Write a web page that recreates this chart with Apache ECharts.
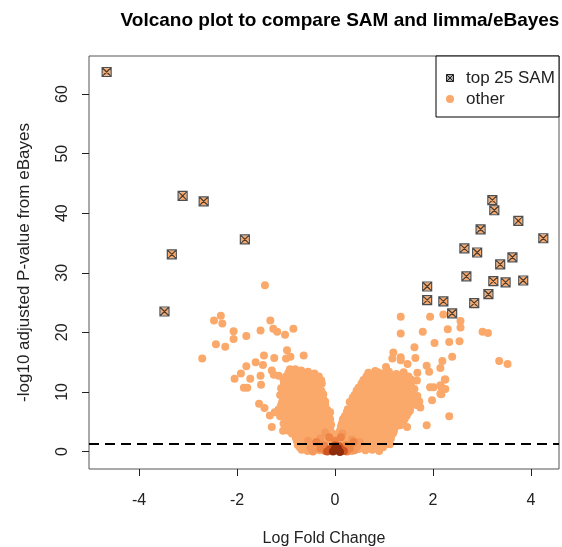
<!DOCTYPE html>
<html>
<head>
<meta charset="utf-8">
<script src="https://cdn.jsdelivr.net/npm/echarts@6/dist/echarts.min.js"></script>
<style>
html,body{margin:0;padding:0;background:#fff;}
#chart{width:562px;height:547px;}
</style>
</head>
<body>
<div id="chart"></div>
<script>
// ---------- data ----------
const xTicks = [-4, -2, 0, 2, 4];
const yTicks = [0, 10, 20, 30, 40, 50, 60];
const cutoff = 1.3; // -log10(0.05)

// top 25 SAM genes [logFC, -log10 adj P]
const top25 = [
  [-4.66,63.7],[-3.11,42.9],[-2.68,42.0],[-3.33,33.1],[-1.84,35.6],[-3.48,23.5],
  [3.21,42.2],[3.25,40.5],[3.74,38.7],[2.97,37.3],[4.25,35.8],[2.64,34.1],
  [2.90,33.4],[3.62,32.6],[3.37,31.4],[2.68,29.4],[3.23,28.6],[3.48,28.4],
  [3.84,28.7],[1.88,27.7],[1.88,25.4],[2.21,25.2],[3.13,26.4],[2.84,24.9],[2.39,23.2]
];

// other genes: scattered (left side)
const otherLeft = [
  [-1.43,27.9],[-2.47,22.0],[-2.33,22.8],[-2.30,21.5],[-2.07,20.2],[-2.07,18.9],[-1.81,19.4],
  [-2.43,18.0],[-2.24,17.6],[-2.71,15.6],[-1.32,22.0],[-1.52,20.3],[-1.26,20.6],[-1.18,20.1],
  [-1.02,19.6],[-0.85,20.6],[-0.98,17.0],[-1.45,16.1],[-1.24,15.7],[-1.00,15.6],[-0.91,15.9],
  [-0.64,16.1],[-1.62,15.0],[-1.47,14.5],[-1.81,14.3],[-1.92,13.1],[-1.29,13.6],[-0.92,13.8],
  [-0.81,13.8],[-0.69,13.6],[-1.52,12.7],[-1.25,12.9],[-1.15,12.7],[-2.05,12.2],[-1.73,12.2],
  [-0.44,12.2],[-1.86,10.7],[-1.79,10.7],[-1.51,11.2],[-1.55,8.0],[-1.44,7.3],[-1.33,6.05],
  [-1.23,6.6],[-1.29,4.1],[-1.06,3.5]
];
// other genes: scattered (right side)
const otherRight = [
  [1.34,22.6],[1.94,22.6],[2.21,23.0],[1.34,19.8],[1.79,20.1],[2.30,20.5],[2.03,18.2],
  [1.62,17.5],[1.19,16.6],[1.34,15.8],[1.34,15.3],[1.17,15.6],[1.64,15.7],[1.48,14.7],
  [2.19,15.2],[1.04,14.2],[1.06,13.5],[0.87,13.3],[1.87,14.4],[1.92,13.4],[2.15,14.0],
  [1.36,12.8],[1.68,13.2],[1.55,12.1],[2.25,12.1],[2.56,21.9],[2.56,20.8],[3.01,20.1],
  [3.12,19.9],[2.54,18.5],[2.33,18.4],[2.39,15.9],[3.35,15.2],[3.52,14.7],[2.24,12.1],
  [2.17,10.8],[2.17,9.6],[2.33,5.9],[1.94,10.8],[2.01,10.8],[2.15,11.1],[2.25,10.5],
  [2.15,9.7],[1.98,8.6],[1.74,7.4],[1.53,6.9],[1.47,6.3],[1.87,4.4],[1.47,4.1],[1.33,4.4],
  [1.12,1.2],[1.67,11.9],[1.47,11.1],[1.33,11.4]
];
// other genes: dense cloud, negative fold change
const cloudLeft = [
  [-0.95,13.2],[-0.82,13.5],[-0.68,13.0],[-0.55,13.4],[-0.42,13.1],
  [-1.05,12.0],[-0.92,11.8],[-0.78,12.1],[-0.65,11.9],[-0.52,12.0],[-0.38,11.7],[-0.28,11.9],
  [-1.1,10.6],[-0.98,10.9],[-0.85,10.7],[-0.72,10.8],[-0.58,10.5],[-0.45,10.8],[-0.32,10.6],
  [-1.12,9.5],[-1.0,9.7],[-0.86,9.4],[-0.74,9.6],[-0.6,9.5],[-0.47,9.7],[-0.34,9.4],[-0.24,9.6],
  [-1.08,8.3],[-0.95,8.5],[-0.82,8.2],[-0.68,8.4],[-0.55,8.3],[-0.42,8.5],[-0.3,8.2],[-0.2,8.4],
  [-1.15,7.1],[-1.02,7.3],[-0.9,7.0],[-0.77,7.2],[-0.64,7.1],[-0.5,7.3],[-0.37,7.0],[-0.25,7.2],[-0.16,7.0],
  [-1.12,5.9],[-0.98,6.1],[-0.85,5.8],[-0.72,6.0],[-0.58,5.9],[-0.45,6.1],[-0.32,5.8],[-0.2,6.0],[-0.12,5.8],
  [-1.05,4.7],[-0.92,4.9],[-0.8,4.6],[-0.66,4.8],[-0.53,4.7],[-0.4,4.9],[-0.28,4.6],[-0.16,4.8],[-0.08,4.5],
  [-0.95,3.5],[-0.84,3.7],[-0.73,3.4],[-0.6,3.6],[-0.47,3.5],[-0.35,3.7],[-0.22,3.4],[-0.1,3.6],
  [-0.8,2.3],[-0.7,2.5],[-0.6,2.2],[-0.5,2.4],[-0.4,2.3],[-0.3,2.5],[-0.18,2.2],[-0.08,2.4],
  [-0.76,1.1],[-0.66,1.3],[-0.56,1.0],[-0.46,1.2],[-0.36,1.1],[-0.26,1.3],
  [-0.68,0.3],[-0.56,0.1],[-0.44,0.4],[-0.32,0.2]
];
const cloudLeft2 = [
  [-1.0,12.6],[-0.86,12.6],[-0.72,12.6],[-0.58,12.6],[-0.45,12.6],[-0.33,12.6],
  [-1.04,11.4],[-0.9,11.4],[-0.77,11.4],[-0.64,11.4],[-0.5,11.4],[-0.38,11.4],[-0.27,11.4],
  [-1.06,10.2],[-0.93,10.2],[-0.8,10.2],[-0.66,10.2],[-0.53,10.2],[-0.4,10.2],[-0.28,10.2],
  [-1.02,9.0],[-0.88,9.0],[-0.75,9.0],[-0.62,9.0],[-0.48,9.0],[-0.36,9.0],[-0.25,9.0],
  [-1.1,7.8],[-0.97,7.8],[-0.84,7.8],[-0.7,7.8],[-0.57,7.8],[-0.44,7.8],[-0.31,7.8],[-0.2,7.8],
  [-1.08,6.6],[-0.95,6.6],[-0.82,6.6],[-0.7,6.6],[-0.57,6.6],[-0.44,6.6],[-0.3,6.6],[-0.18,6.6],[-0.1,6.6],
  [-1.0,5.4],[-0.87,5.4],[-0.74,5.4],[-0.6,5.4],[-0.47,5.4],[-0.34,5.4],[-0.22,5.4],[-0.1,5.4],
  [-0.98,4.2],[-0.86,4.2],[-0.72,4.2],[-0.6,4.2],[-0.47,4.2],[-0.34,4.2],[-0.22,4.2],[-0.1,4.2],
  [-0.88,3.0],[-0.76,3.0],[-0.64,3.0],[-0.52,3.0],[-0.4,3.0],[-0.28,3.0],[-0.15,3.0],[-0.05,3.0],
  [-0.78,1.8],[-0.66,1.8],[-0.55,1.8],[-0.44,1.8],[-0.32,1.8],[-0.2,1.8],[-0.1,1.8],
  [-0.72,0.7],[-0.6,0.7],[-0.5,0.7],[-0.38,0.7],[-0.26,0.7]
];
// other genes: dense cloud, positive fold change
const cloudRight = [
  [0.68,13.2],[0.82,13.5],[0.96,13.1],[1.1,13.4],[1.25,13.0],[1.4,13.3],
  [0.58,12.0],[0.72,11.8],[0.86,12.1],[1.0,11.9],[1.14,12.0],[1.28,11.8],[1.42,12.1],[1.56,11.9],
  [0.48,10.7],[0.62,10.9],[0.76,10.6],[0.9,10.8],[1.04,10.7],[1.18,10.9],[1.32,10.6],[1.5,10.8],[1.62,10.5],
  [0.4,9.5],[0.54,9.7],[0.68,9.4],[0.82,9.6],[0.96,9.5],[1.1,9.7],[1.24,9.4],[1.38,9.6],[1.55,9.5],[1.68,9.3],
  [0.3,8.3],[0.44,8.5],[0.58,8.2],[0.72,8.4],[0.86,8.3],[1.0,8.5],[1.14,8.2],[1.28,8.4],[1.44,8.3],[1.6,8.1],[1.72,8.4],
  [0.26,7.1],[0.4,7.3],[0.54,7.0],[0.68,7.2],[0.82,7.1],[0.96,7.3],[1.1,7.0],[1.24,7.2],[1.38,7.0],[1.52,7.2],
  [0.2,5.9],[0.34,6.1],[0.48,5.8],[0.62,6.0],[0.76,5.9],[0.9,6.1],[1.04,5.8],[1.18,6.0],[1.32,5.8],[1.46,6.0],
  [0.14,4.7],[0.28,4.9],[0.42,4.6],[0.56,4.8],[0.7,4.7],[0.84,4.9],[0.98,4.6],[1.12,4.8],[1.26,4.5],[1.38,4.7],
  [0.1,3.5],[0.24,3.7],[0.38,3.4],[0.52,3.6],[0.66,3.5],[0.8,3.7],[0.94,3.4],[1.08,3.6],[1.2,3.4],
  [0.06,2.3],[0.2,2.5],[0.34,2.2],[0.48,2.4],[0.62,2.3],[0.76,2.5],[0.9,2.2],[1.02,2.4],[1.14,2.2],
  [0.08,1.1],[0.22,1.3],[0.36,1.0],[0.5,1.2],[0.64,1.1],[0.78,1.3],[0.92,1.0],[1.04,1.2],
  [0.2,0.3],[0.34,0.1],[0.48,0.4],[0.62,0.2],[0.76,0.3],[0.9,0.1]
];
const cloudRight2 = [
  [0.64,12.6],[0.78,12.6],[0.92,12.6],[1.06,12.6],[1.2,12.6],[1.34,12.6],[1.5,12.6],
  [0.54,11.4],[0.68,11.4],[0.82,11.4],[0.96,11.4],[1.1,11.4],[1.24,11.4],[1.38,11.4],[1.55,11.4],
  [0.44,10.2],[0.58,10.2],[0.72,10.2],[0.86,10.2],[1.0,10.2],[1.14,10.2],[1.28,10.2],[1.44,10.2],[1.58,10.2],
  [0.36,9.0],[0.5,9.0],[0.64,9.0],[0.78,9.0],[0.92,9.0],[1.06,9.0],[1.2,9.0],[1.34,9.0],[1.5,9.0],[1.64,9.0],
  [0.36,7.8],[0.5,7.8],[0.64,7.8],[0.78,7.8],[0.92,7.8],[1.06,7.8],[1.2,7.8],[1.34,7.8],[1.5,7.8],[1.66,7.8],
  [0.24,6.6],[0.38,6.6],[0.52,6.6],[0.66,6.6],[0.8,6.6],[0.94,6.6],[1.08,6.6],[1.22,6.6],[1.36,6.6],[1.5,6.6],
  [0.16,5.4],[0.3,5.4],[0.44,5.4],[0.58,5.4],[0.72,5.4],[0.86,5.4],[1.0,5.4],[1.14,5.4],[1.28,5.4],[1.42,5.4],
  [0.12,4.2],[0.26,4.2],[0.4,4.2],[0.54,4.2],[0.68,4.2],[0.82,4.2],[0.96,4.2],[1.1,4.2],[1.24,4.2],
  [0.08,3.0],[0.22,3.0],[0.36,3.0],[0.5,3.0],[0.64,3.0],[0.78,3.0],[0.92,3.0],[1.06,3.0],[1.18,3.0],
  [0.14,1.8],[0.28,1.8],[0.42,1.8],[0.56,1.8],[0.7,1.8],[0.84,1.8],[0.98,1.8],[1.1,1.8],
  [0.14,0.7],[0.28,0.7],[0.42,0.7],[0.56,0.7],[0.7,0.7],[0.84,0.7],[0.98,0.7]
];
// higher-density points near the origin (darker colours)
const denseLight = [
  [-0.5,0.6],[-0.4,1.4],[-0.3,2.2],[0.35,2.0],[0.45,0.9],[0.4,0.2],[-0.45,0.0],
  [0.5,1.6],[-0.55,1.8],[0.15,3.0],[-0.2,3.2]
];
const denseMid = [
  [-0.22,1.0],[0.22,1.0],[-0.3,0.5],[0.3,0.5],[0,1.8],[-0.12,2.4],[0.12,2.4],
  [-0.38,1.6],[0.38,1.6],[-0.2,0.1],[0.24,0.0]
];
const denseDark = [
  [-0.1,0.4],[0.12,0.4],[0,1.0],[-0.16,0.0],[0.18,0.1],[0.08,0.9]
];
const denseCore = [
  [0.02,0.2],[0.06,0.5],[-0.04,0.0],[0.1,-0.1],[0.0,0.6]
];

// ---------- chart ----------
const FONT = '"Liberation Sans", Arial, sans-serif';
const LIGHT = '#FAA96B';
const boxX = 'path://M0,0L10,0L10,10L0,10Z M0,0L10,10 M10,0L0,10';

const chart = echarts.init(document.getElementById('chart'), null, {renderer: 'canvas'});

function pts(name, data, color, size) {
  return {
    name: name, type: 'scatter', data: data, symbol: 'circle', symbolSize: size || 8,
    itemStyle: {color: color, opacity: 1}, silent: true, animation: false
  };
}

const option = {
  animation: false,
  backgroundColor: '#fff',
  title: {
    text: 'Volcano plot to compare SAM and limma/eBayes',
    left: 335, top: 6, textAlign: 'center',
    textStyle: {fontFamily: FONT, fontWeight: 'bold', fontSize: 19, color: '#000'}
  },
  grid: {left: 89, right: 3, top: 56, bottom: 78, containLabel: false, outerBoundsMode: 'none',
         show: true, borderColor: '#555', borderWidth: 1, backgroundColor: 'transparent'},
  xAxis: {
    type: 'value', min: -5.02, max: 4.57,
    name: 'Log Fold Change', nameLocation: 'middle', nameGap: 62,
    nameTextStyle: {fontFamily: FONT, fontSize: 16, color: '#222'},
    axisLine: {show: false, onZero: false},
    splitLine: {show: false},
    axisTick: {show: true, length: 7, customValues: xTicks, lineStyle: {color: '#222', width: 1}},
    axisLabel: {customValues: xTicks, margin: 24, fontFamily: FONT, fontSize: 16, color: '#222'}
  },
  yAxis: {
    type: 'value', min: -2.94, max: 66.39,
    name: '-log10 adjusted P-value from eBayes', nameLocation: 'middle', nameGap: 56, nameRotate: 90,
    nameTextStyle: {fontFamily: FONT, fontSize: 17, color: '#222'},
    axisLine: {show: false, onZero: false},
    splitLine: {show: false},
    axisTick: {show: true, length: 7, customValues: yTicks, lineStyle: {color: '#222', width: 1}},
    axisLabel: {customValues: yTicks, rotate: 90, margin: 18, fontFamily: FONT, fontSize: 16, color: '#222'}
  },
  series: [
    pts('cloudL', cloudLeft, LIGHT),
    pts('cloudL2', cloudLeft2, LIGHT),
    pts('cloudR', cloudRight, LIGHT),
    pts('cloudR2', cloudRight2, LIGHT),
    pts('otherL', otherLeft, LIGHT),
    pts('otherR', otherRight, LIGHT),
    pts('denseLight', denseLight, '#F59A5E'),
    pts('denseMid', denseMid, '#EE8446'),
    pts('denseDark', denseDark, '#CF5522'),
    pts('denseCore', denseCore, '#8E2C0C'),
    pts('topFill', top25, LIGHT, 8),
    {
      name: 'top 25 SAM', type: 'scatter', data: top25, symbol: boxX, symbolSize: 9,
      itemStyle: {color: 'rgba(0,0,0,0)', borderColor: '#222', borderWidth: 1.2},
      silent: true, animation: false,
      markLine: {
        silent: true, symbol: ['none', 'none'], label: {show: false},
        lineStyle: {color: '#000', type: [10, 6], width: 2},
        data: [{yAxis: cutoff}]
      }
    }
  ],
  graphic: [
    {type: 'rect', shape: {x: 436, y: 56, width: 123, height: 61},
     style: {fill: '#fff', stroke: '#000', lineWidth: 1}, z: 100},
    {type: 'rect', shape: {x: 446.5, y: 74.5, width: 7, height: 7},
     style: {fill: '#aaa', stroke: '#222', lineWidth: 1}, z: 101},
    {type: 'polyline', shape: {points: [[446.5,74.5],[453.5,81.5]]}, style: {stroke: '#222', lineWidth: 1}, z: 102},
    {type: 'polyline', shape: {points: [[453.5,74.5],[446.5,81.5]]}, style: {stroke: '#222', lineWidth: 1}, z: 102},
    {type: 'circle', shape: {cx: 450, cy: 99, r: 4}, style: {fill: LIGHT}, z: 101},
    {type: 'text', x: 466, y: 78, z: 101,
     style: {text: 'top 25 SAM', fontFamily: FONT, fontSize: 17, fill: '#222', textVerticalAlign: 'middle'}},
    {type: 'text', x: 466, y: 99, z: 101,
     style: {text: 'other', fontFamily: FONT, fontSize: 17, fill: '#222', textVerticalAlign: 'middle'}}
  ]
};
chart.setOption(option);
</script>
</body>
</html>
